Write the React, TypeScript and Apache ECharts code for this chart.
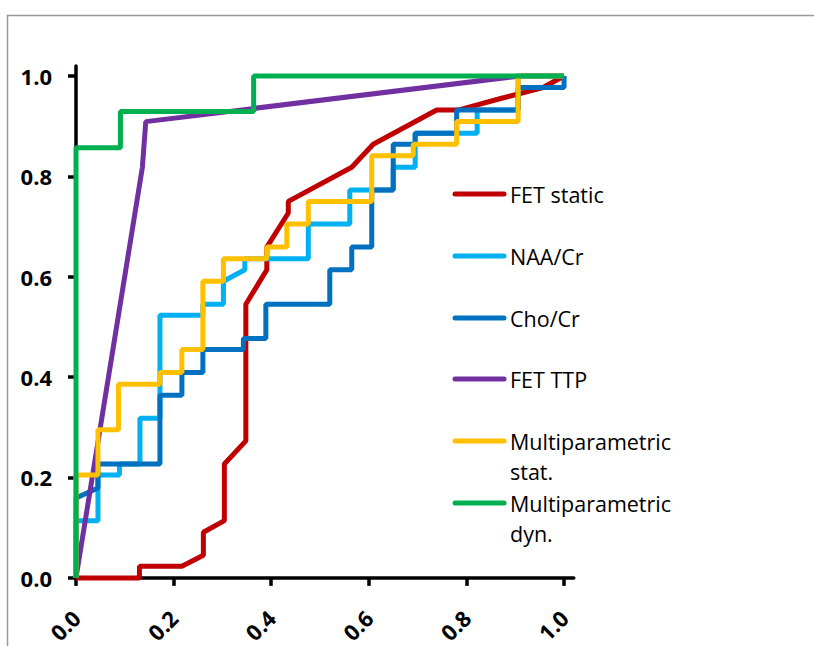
import React, { useEffect, useRef } from "react";
import * as echarts from "echarts";

const tickValues = [0, 0.2, 0.4, 0.6, 0.8, 1.0];

const fetStatic: number[][] = [
  [0, 0], [0.13, 0], [0.13, 0.023], [0.217, 0.023], [0.261, 0.045], [0.261, 0.091],
  [0.304, 0.114], [0.304, 0.227], [0.348, 0.273], [0.348, 0.545], [0.391, 0.614],
  [0.391, 0.659], [0.435, 0.727], [0.435, 0.75], [0.565, 0.818], [0.609, 0.864],
  [0.739, 0.932], [0.783, 0.932], [0.87, 0.955], [0.957, 0.977], [1, 1],
];

const naaCr: number[][] = [
  [0, 0], [0, 0.114], [0.045, 0.114], [0.045, 0.205], [0.089, 0.205], [0.089, 0.227],
  [0.131, 0.227], [0.131, 0.318], [0.172, 0.318], [0.172, 0.523], [0.26, 0.523],
  [0.26, 0.545], [0.302, 0.545], [0.302, 0.591], [0.346, 0.614], [0.346, 0.636],
  [0.476, 0.636], [0.476, 0.705], [0.561, 0.705], [0.561, 0.773], [0.65, 0.773],
  [0.65, 0.818], [0.695, 0.818], [0.695, 0.886], [0.822, 0.886], [0.822, 0.932],
  [0.906, 0.932], [0.906, 1], [1, 1],
];

const choCr: number[][] = [
  [0, 0], [0, 0.159], [0.045, 0.179], [0.045, 0.227], [0.172, 0.227], [0.172, 0.364],
  [0.217, 0.364], [0.217, 0.409], [0.26, 0.409], [0.26, 0.455], [0.343, 0.455],
  [0.343, 0.477], [0.389, 0.477], [0.389, 0.545], [0.52, 0.545], [0.52, 0.614],
  [0.565, 0.614], [0.565, 0.659], [0.606, 0.659], [0.606, 0.773], [0.65, 0.773],
  [0.65, 0.864], [0.695, 0.864], [0.695, 0.886], [0.78, 0.886], [0.78, 0.932],
  [0.906, 0.932], [0.906, 0.977], [1, 0.977], [1, 1],
];

const fetTtp: number[][] = [
  [0, 0], [0.136, 0.818], [0.143, 0.909], [0.909, 1], [1, 1],
];

const multiStat: number[][] = [
  [0, 0], [0, 0.205], [0.045, 0.205], [0.045, 0.295], [0.087, 0.295], [0.087, 0.386],
  [0.172, 0.386], [0.172, 0.409], [0.217, 0.409], [0.217, 0.455], [0.26, 0.455],
  [0.26, 0.591], [0.302, 0.591], [0.302, 0.636], [0.391, 0.636], [0.391, 0.659],
  [0.432, 0.659], [0.432, 0.705], [0.476, 0.705], [0.476, 0.75], [0.606, 0.75],
  [0.606, 0.841], [0.691, 0.841], [0.691, 0.864], [0.78, 0.864], [0.78, 0.909],
  [0.906, 0.909], [0.906, 1], [1, 1],
];

const multiDyn: number[][] = [
  [0, 0], [0, 0.857], [0.091, 0.857], [0.091, 0.929], [0.364, 0.929], [0.364, 1], [1, 1],
];

const seriesNames = [
  "FET static",
  "NAA/Cr",
  "Cho/Cr",
  "FET TTP",
  "Multiparametric\nstat.",
  "Multiparametric\ndyn.",
];
const seriesData = [fetStatic, naaCr, choCr, fetTtp, multiStat, multiDyn];
const seriesColors = ["#C00000", "#00B0F0", "#0070C0", "#7030A0", "#FFC000", "#00B050"];

export default function App() {
  const ref = useRef<HTMLDivElement>(null);
  useEffect(() => {
    if (!ref.current) return;
    const chart = echarts.init(ref.current, null, { renderer: "svg" });
    const legendRows = [194, 256, 318, 379, 441, 503];
    const graphic: any[] = [
      {
        type: "rect",
        shape: { x: 7.5, y: 15.5, width: 900, height: 800 },
        style: { fill: "none", stroke: "#999999", lineWidth: 1.5 },
        silent: true,
      },
    ];
    seriesNames.forEach((name, i) => {
      graphic.push({
        type: "line",
        shape: { x1: 455, y1: legendRows[i], x2: 504, y2: legendRows[i] },
        style: { stroke: seriesColors[i], lineWidth: 5, lineCap: "round" },
      });
      graphic.push({
        type: "text",
        x: 510,
        y: legendRows[i] - 15,
        style: {
          text: name,
          fill: "#000",
          font: '21.5px "Open Sans"',
          lineHeight: 30,
          verticalAlign: "top",
          align: "left",
        },
      });
    });
    const axisCommon = {
      type: "value" as const,
      min: 0,
      max: 1.02,
      splitLine: { show: false },
      axisLine: { show: true, onZero: false, lineStyle: { color: "#000", width: 3.5 } },
      axisTick: {
        show: true,
        length: 8,
        inside: false,
        customValues: tickValues,
        lineStyle: { color: "#000", width: 3.5 },
      },
    };
    chart.setOption({
      animation: false,
      grid: { left: 76, right: 240.2, top: 65.9, bottom: 66, containLabel: false },
      xAxis: {
        ...axisCommon,
        axisLabel: {
          customValues: tickValues,
          rotate: 45,
          margin: 36,
          color: "#000",
          fontWeight: "bold",
          fontSize: 22,
          fontFamily: "Open Sans",
          formatter: (v: number) => v.toFixed(1),
        },
      },
      yAxis: {
        ...axisCommon,
        axisLabel: {
          customValues: tickValues,
          margin: 24,
          color: "#000",
          fontWeight: "bold",
          fontSize: 22,
          fontFamily: "Open Sans",
          formatter: (v: number) => v.toFixed(1),
        },
      },
      graphic,
      series: seriesNames.map((name, i) => ({
        type: "line",
        name,
        data: seriesData[i],
        showSymbol: false,
        symbol: "none",
        clip: false,
        z: 2 + i,
        lineStyle: { color: seriesColors[i], width: 5 },
        itemStyle: { color: seriesColors[i] },
      })),
    });
    return () => chart.dispose();
  }, []);
  return (
    <div
      ref={ref}
      style={{ position: "fixed", left: 0, top: 0, width: 814, height: 646, background: "#fff" }}
    />
  );
}
